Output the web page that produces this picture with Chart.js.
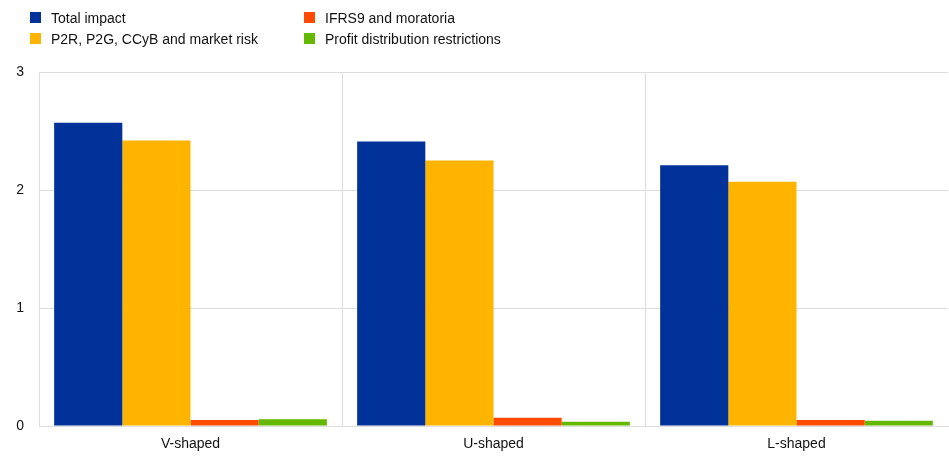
<!DOCTYPE html>
<html>
<head>
<meta charset="utf-8">
<script src="https://cdn.jsdelivr.net/npm/chart.js@4"></script>
<style>
  body { margin: 0; background: #fff; font-family: "Liberation Sans", Arial, sans-serif; }
  #wrap { position: relative; width: 949px; height: 456px; }
  #legend { position: absolute; left: 0; top: 0; width: 949px; height: 56px; font-size: 14px; color: #111; }
  .item { position: absolute; height: 14px; line-height: 14px; white-space: nowrap; }
  .item span { position: absolute; width: 11px; height: 11px; left: 0; top: 1px; }
  .item b { font-weight: normal; position: absolute; left: 21px; top: 0; }
</style>
</head>
<body>
<div id="wrap">
  <canvas id="myChart" width="949" height="456"></canvas>
  <div id="legend"></div>
</div>
<script>
var categories = ["V-shaped", "U-shaped", "L-shaped"];
var seriesNames = ["Total impact", "P2R, P2G, CCyB and market risk", "IFRS9 and moratoria", "Profit distribution restrictions"];
var totalImpact = [2.57, 2.41, 2.21];
var p2rP2g = [2.42, 2.25, 2.07];
var ifrs9 = [0.05, 0.07, 0.05];
var profitDist = [0.058, 0.035, 0.045];
var yTicks = [0, 1, 2, 3];
var colors = ["#003299", "#FFB400", "#FF4B00", "#65B800"];

// legend, two columns like the original
var legendPos = [[30, 11], [30, 32], [304, 11], [304, 32]];
var lg = document.getElementById("legend");
seriesNames.forEach(function (name, i) {
    let d = document.createElement("div");
    d.className = "item";
    d.style.left = legendPos[i][0] + "px";
    d.style.top = legendPos[i][1] + "px";
    d.innerHTML = `<span style="background:${colors[i]}"></span><b>${name}</b>`;
    lg.appendChild(d);
});

var allData = [totalImpact, p2rP2g, ifrs9, profitDist];
var datasets = allData.map(function (vals, i) {
    return {
        label: seriesNames[i],
        data: vals,
        backgroundColor: colors[i],
        borderWidth: 0,
        categoryPercentage: 0.9,
        barPercentage: 1.0
    };
});

const ctx = document.getElementById('myChart');
new Chart(ctx, {
    type: 'bar',
    data: { labels: categories, datasets: datasets },
    options: {
        responsive: false,
        animation: false,
        layout: { padding: { top: 72, right: 1, left: 0, bottom: 0 } },
        plugins: { legend: { display: false }, tooltip: { enabled: false } },
        scales: {
            x: {
                grid: {
                    // no line on the far right edge
                    color: function (c) { return c.type === 'tick' ? "#dddddd" : "rgba(0,0,0,0)"; },
                    lineWidth: 1, drawTicks: false, offset: true
                },
                border: { color: "#dddddd" },
                ticks: { color: "#111", font: { family: "Liberation Sans", size: 14 }, padding: 10 },
                afterFit: function (s) { s.height = 30; }
            },
            y: {
                min: 0, max: 3,
                afterBuildTicks: function (s) { s.ticks = yTicks.map(function (v) { return { value: v }; }); },
                grid: { color: "#dddddd", lineWidth: 1, drawTicks: false },
                border: { color: "#dddddd" },
                ticks: { color: "#111", font: { family: "Liberation Sans", size: 14 }, padding: 15 },
                afterFit: function (s) { s.width = 39; }
            }
        }
    }
});
</script>
</body>
</html>
